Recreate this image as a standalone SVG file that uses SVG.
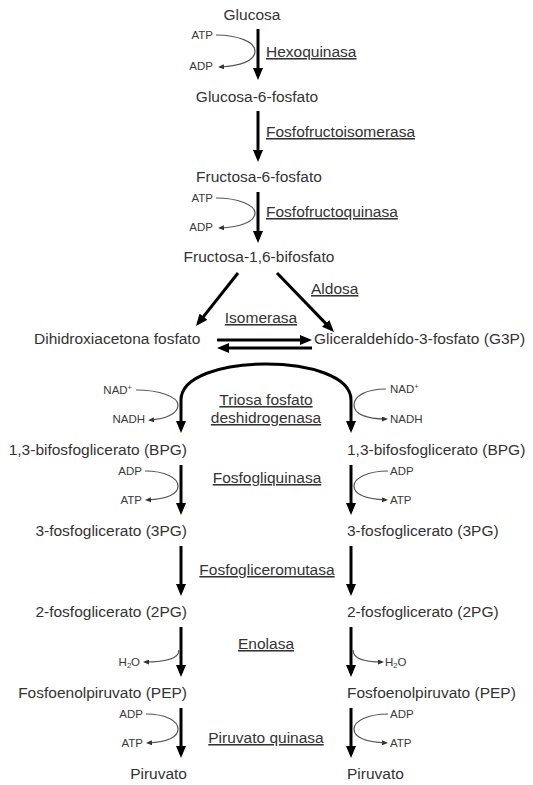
<svg xmlns="http://www.w3.org/2000/svg" width="533" height="785" viewBox="0 0 533 785">
<style>
text{font-family:"Liberation Sans",Arial,sans-serif;fill:#333}
.m{font-size:15.5px}
.e{font-size:15.5px;text-decoration:underline}
.s{font-size:11.5px;fill:#3a3a3a}
.a{stroke:#000;stroke-width:3;fill:none;marker-end:url(#ah)}
.c{stroke:#555;stroke-width:1.2;fill:none;marker-end:url(#sh)}
.c0{stroke:#555;stroke-width:1.2;fill:none}
</style>
<defs>
<marker id="ah" markerUnits="userSpaceOnUse" markerWidth="12" markerHeight="10" refX="8" refY="5" orient="auto-start-reverse"><path d="M0,0 L12,5 L0,10 z" fill="#000"/></marker>
<marker id="sh" markerUnits="userSpaceOnUse" markerWidth="6" markerHeight="5" refX="4" refY="2.5" orient="auto"><path d="M0,0 L6,2.5 L0,5 z" fill="#333"/></marker>
</defs>
<rect width="533" height="785" fill="#fff"/>

<g id="connectors">
<line class="a" x1="258" y1="29" x2="258" y2="76"/>
<line class="a" x1="258" y1="111" x2="258" y2="158"/>
<line class="a" x1="258" y1="192" x2="258" y2="239"/>
<line class="a" x1="238" y1="273" x2="198.5" y2="322.9"/>
<line class="a" x1="277" y1="273" x2="331.2" y2="329.1"/>
<line class="a" x1="217" y1="340" x2="308" y2="340"/>
<line class="a" x1="312" y1="348" x2="221" y2="348"/>
<path class="a" style="marker-start:url(#ah)" d="M181,429 L181,400 C181,352 351,352 351,400 L351,429"/>
<line class="a" x1="181" y1="465" x2="181" y2="511"/>
<line class="a" x1="181" y1="546" x2="181" y2="592"/>
<line class="a" x1="181" y1="627" x2="181" y2="673"/>
<line class="a" x1="181" y1="708" x2="181" y2="754"/>
<line class="a" x1="351" y1="465" x2="351" y2="511"/>
<line class="a" x1="351" y1="546" x2="351" y2="592"/>
<line class="a" x1="351" y1="627" x2="351" y2="673"/>
<line class="a" x1="351" y1="708" x2="351" y2="754"/>
<!-- side reactions -->
<path class="c" d="M216,35 C238,35 255,42 255,51 C255,61 240,66 220,67"/>
<path class="c" d="M216,198 C238,198 255,205 255,213 C255,222 240,227 220,228"/>
<path class="c" d="M136,390 C160,390 178,397 178,405 C178,414 165,419 150,420"/>
<path class="c" d="M386,389 C366,389 354,396 354,405 C354,414 366,419 386,419"/>
<path class="c" d="M145,471 C165,471 178,478 178,486 C178,495 165,499 147,500"/>
<path class="c" d="M388,471 C368,471 354,478 354,486 C354,495 368,499 386,500"/>
<path class="c" d="M179,650 C179,659 166,662 145,662"/>
<path class="c" d="M353,650 C353,659 366,662 382,662"/>
<path class="c" d="M146,714 C166,714 178,721 178,729 C178,738 166,742 148,743"/>
<path class="c" d="M388,714 C368,714 354,721 354,729 C354,738 368,742 386,743"/>
</g>

<g id="glucosa"><text class="m" x="252" y="20" text-anchor="middle">Glucosa</text></g>
<g id="hexoquinasa">
<text class="s" x="213" y="39" text-anchor="end">ATP</text>
<text class="s" x="213" y="70" text-anchor="end">ADP</text>
<text class="e" x="266" y="57">Hexoquinasa</text>
</g>
<g id="glucosa6p"><text class="m" x="257" y="102" text-anchor="middle">Glucosa-6-fosfato</text></g>
<g id="fosfofructoisomerasa"><text class="e" x="266" y="137">Fosfofructoisomerasa</text></g>
<g id="fructosa6p"><text class="m" x="259" y="182" text-anchor="middle">Fructosa-6-fosfato</text></g>
<g id="fosfofructoquinasa">
<text class="s" x="213" y="202" text-anchor="end">ATP</text>
<text class="s" x="213" y="231" text-anchor="end">ADP</text>
<text class="e" x="266" y="217">Fosfofructoquinasa</text>
</g>
<g id="fructosa16bp"><text class="m" x="259" y="262" text-anchor="middle">Fructosa-1,6-bifosfato</text></g>
<g id="aldosa"><text class="e" x="311" y="294">Aldosa</text></g>
<g id="isomerasa"><text class="e" x="261" y="323" text-anchor="middle">Isomerasa</text></g>
<g id="dhap"><text class="m" x="34" y="344">Dihidroxiacetona fosfato</text></g>
<g id="g3p"><text class="m" x="314" y="344">Gliceraldehído-3-fosfato (G3P)</text></g>
<g id="triosa">
<text class="s" x="132" y="394" text-anchor="end">NAD<tspan font-size="7.5" dy="-4">+</tspan></text>
<text class="s" x="145" y="423" text-anchor="end">NADH</text>
<text class="s" x="390" y="393">NAD<tspan font-size="7.5" dy="-4">+</tspan></text>
<text class="s" x="390" y="423">NADH</text>
<text class="e" x="266" y="405" text-anchor="middle">Triosa fosfato</text>
<text class="e" x="266" y="423" text-anchor="middle">deshidrogenasa</text>
</g>
<g id="bpg">
<text class="m" x="187" y="455" text-anchor="end">1,3-bifosfoglicerato (BPG)</text>
<text class="m" x="347" y="455">1,3-bifosfoglicerato (BPG)</text>
</g>
<g id="fosfogliquinasa">
<text class="s" x="142" y="475" text-anchor="end">ADP</text>
<text class="s" x="142" y="504" text-anchor="end">ATP</text>
<text class="s" x="390" y="475">ADP</text>
<text class="s" x="390" y="504">ATP</text>
<text class="e" x="267" y="483" text-anchor="middle">Fosfogliquinasa</text>
</g>
<g id="pg3">
<text class="m" x="187" y="536" text-anchor="end">3-fosfoglicerato (3PG)</text>
<text class="m" x="347" y="536">3-fosfoglicerato (3PG)</text>
</g>
<g id="fosfogliceromutasa"><text class="e" x="267" y="575" text-anchor="middle">Fosfogliceromutasa</text></g>
<g id="pg2">
<text class="m" x="187" y="617" text-anchor="end">2-fosfoglicerato (2PG)</text>
<text class="m" x="347" y="617">2-fosfoglicerato (2PG)</text>
</g>
<g id="enolasa">
<text class="s" x="140" y="666" text-anchor="end">H<tspan font-size="7.5" dy="2">2</tspan><tspan dy="-2">O</tspan></text>
<text class="s" x="385" y="666">H<tspan font-size="7.5" dy="2">2</tspan><tspan dy="-2">O</tspan></text>
<text class="e" x="266" y="649" text-anchor="middle">Enolasa</text>
</g>
<g id="pep">
<text class="m" x="187" y="698" text-anchor="end">Fosfoenolpiruvato (PEP)</text>
<text class="m" x="347" y="698">Fosfoenolpiruvato (PEP)</text>
</g>
<g id="piruvatoquinasa">
<text class="s" x="143" y="718" text-anchor="end">ADP</text>
<text class="s" x="143" y="747" text-anchor="end">ATP</text>
<text class="s" x="390" y="718">ADP</text>
<text class="s" x="390" y="747">ATP</text>
<text class="e" x="266" y="743" text-anchor="middle">Piruvato quinasa</text>
</g>
<g id="piruvato">
<text class="m" x="187" y="779" text-anchor="end">Piruvato</text>
<text class="m" x="347" y="779">Piruvato</text>
</g>
</svg>
